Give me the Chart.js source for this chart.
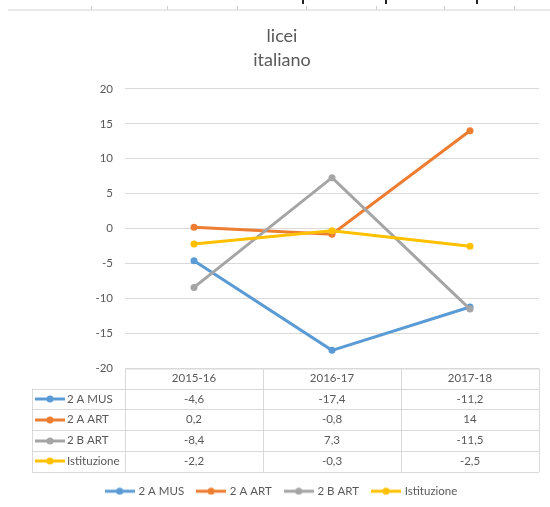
<!DOCTYPE html>
<html>
<head>
<meta charset="utf-8">
<script src="https://cdn.jsdelivr.net/npm/chart.js@4.4.0/dist/chart.umd.min.js"></script>
<style>
  body { margin: 0; background: #fff; }
</style>
</head>
<body>
<canvas id="grafico" width="550" height="507"></canvas>
<script>
var categorie = ["2015-16", "2016-17", "2017-18"];
var nomiSerie = ["2 A MUS", "2 A ART", "2 B ART", "Istituzione"];
var mus2A = [-4.6, -17.4, -11.2];
var art2A = [0.2, -0.8, 14];
var art2B = [-8.4, 7.3, -11.5];
var istituzione = [-2.2, -0.3, -2.5];
var yTicks = [-20, -15, -10, -5, 0, 5, 10, 15, 20];

var colori = ["#5B9BD5", "#ED7D31", "#A5A5A5", "#FFC000"];
var valori = [mus2A, art2A, art2B, istituzione];
var grigioTesto = "#595959";
var grigioLinee = "#D9D9D9";
var font = "Lato";

// piccolo simbolo linea + punto, come nella legenda di Excel
function simbolo(colore) {
  var c = document.createElement("canvas");
  c.width = 30; c.height = 8;
  var g = c.getContext("2d");
  g.strokeStyle = colore; g.lineWidth = 3;
  g.beginPath(); g.moveTo(0, 4); g.lineTo(30, 4); g.stroke();
  g.fillStyle = colore;
  g.beginPath(); g.arc(15, 4, 3.5, 0, Math.PI * 2); g.fill();
  return c;
}
var simboli = colori.map(simbolo);

function formatta(v) {
  return String(v).replace(".", ",");
}

// tabella dati sotto il grafico
var tabellaDati = {
  id: "tabellaDati",
  afterDraw: function (chart) {
    var ctx = chart.ctx, area = chart.chartArea, x = chart.scales.x;
    var passo = x.getPixelForValue(1) - x.getPixelForValue(0);
    var top = area.bottom, hHead = 20, hRiga = 20.8;
    var sinistra = 32;
    var fondo = top + hHead + hRiga * nomiSerie.length;

    ctx.save();
    ctx.strokeStyle = grigioLinee;
    ctx.lineWidth = 1;
    ctx.beginPath();
    ctx.moveTo(area.left, top + 0.5); ctx.lineTo(area.right, top + 0.5);
    for (var r = 0; r <= nomiSerie.length; r++) {
      var yy = Math.round(top + hHead + hRiga * r) + 0.5;
      ctx.moveTo(sinistra, yy); ctx.lineTo(area.right, yy);
    }
    for (var i = 0; i <= categorie.length; i++) {
      var xx = Math.round(x.getPixelForValue(0) - passo / 2 + passo * i) + 0.5;
      ctx.moveTo(xx, top); ctx.lineTo(xx, fondo);
    }
    ctx.moveTo(sinistra + 0.5, top + hHead); ctx.lineTo(sinistra + 0.5, fondo);
    ctx.stroke();

    ctx.fillStyle = grigioTesto;
    ctx.font = "11.5px " + font;
    ctx.textBaseline = "middle";
    ctx.textAlign = "center";
    categorie.forEach(function (c, i) {
      ctx.fillText(c, x.getPixelForValue(i), top + hHead / 2);
    });
    nomiSerie.forEach(function (nome, r) {
      var cy = top + hHead + hRiga * r + hRiga / 2;
      ctx.drawImage(simboli[r], sinistra + 3, Math.round(cy) - 4);
      ctx.textAlign = "left";
      ctx.fillText(nome, sinistra + 35, cy);
      ctx.textAlign = "center";
      valori[r].forEach(function (v, i) {
        ctx.fillText(formatta(v), x.getPixelForValue(i), cy);
      });
    });
    ctx.restore();
  }
};

// resto del grafico precedente tagliato in alto
var bordoSopra = {
  id: "bordoSopra",
  beforeDraw: function (chart) {
    var ctx = chart.ctx;
    ctx.save();
    ctx.fillStyle = "#E9E9E9";
    ctx.fillRect(8, 9, 542, 2);
    ctx.fillStyle = "#CFCFCF";
    [91, 167, 237, 306, 376, 444, 514].forEach(function (t) { ctx.fillRect(t, 6, 1, 4); });
    ctx.fillStyle = "#222";
    [302, 385, 476].forEach(function (t) { ctx.fillRect(t, 0, 2, 4); });
    ctx.restore();
  }
};

var datasets = nomiSerie.map(function (nome, i) {
  return {
    label: nome,
    data: valori[i],
    borderColor: colori[i],
    backgroundColor: colori[i],
    borderWidth: 3,
    pointRadius: 3.5,
    pointHoverRadius: 3.5,
    pointBorderWidth: 0,
    tension: 0,
    order: nomiSerie.length - i
  };
});

new Chart(document.getElementById("grafico"), {
  type: "line",
  data: { labels: categorie, datasets: datasets },
  options: {
    responsive: false,
    animation: false,
    layout: { padding: { left: 25, right: 11, top: 0, bottom: 0 } },
    plugins: {
      title: {
        display: true,
        text: ["licei", "italiano"],
        color: grigioTesto,
        font: { family: font, size: 18, weight: "normal", lineHeight: 1.33 },
        padding: { top: 24.5, bottom: 16.5 }
      },
      legend: {
        position: "bottom",
        labels: {
          usePointStyle: true,
          pointStyleWidth: 26,
          padding: 14,
          color: grigioTesto,
          font: { family: font, size: 11.5 },
          generateLabels: function (chart) {
            var items = Chart.defaults.plugins.legend.labels.generateLabels(chart);
            items.forEach(function (it) { it.pointStyle = simboli[it.datasetIndex]; });
            return items;
          },
          sort: function (a, b) { return a.datasetIndex - b.datasetIndex; }
        }
      },
      tooltip: { enabled: false }
    },
    scales: {
      x: {
        type: "category",
        offset: true,
        ticks: { display: false },
        grid: { display: false },
        border: { display: false },
        afterFit: function (s) { s.height = 103; }
      },
      y: {
        min: -20,
        max: 20,
        afterBuildTicks: function (s) { s.ticks = yTicks.map(function (v) { return { value: v }; }); },
        ticks: { color: grigioTesto, font: { family: font, size: 11.5 }, padding: 12 },
        grid: { color: grigioLinee, drawTicks: false },
        border: { display: false },
        afterFit: function (s) { s.width = 100; }
      }
    }
  },
  plugins: [bordoSopra, tabellaDati]
});
</script>
</body>
</html>
